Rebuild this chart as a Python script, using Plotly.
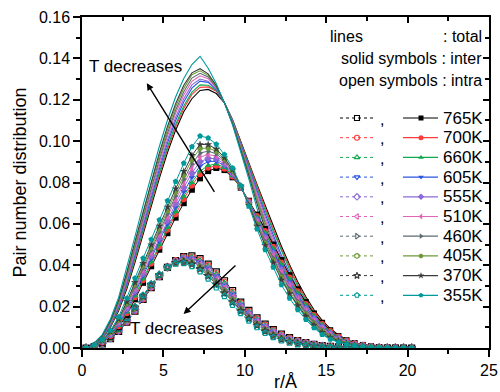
import plotly.graph_objects as go

# ---------------- data ----------------
R = [0.25, 0.75, 1.25, 1.75, 2.25, 2.75, 3.25, 3.75, 4.25, 4.75, 5.25, 5.75, 6.25, 6.75,
     7.25, 7.75, 8.25, 8.75, 9.25, 9.75, 10.25, 10.75, 11.25, 11.75, 12.25, 12.75, 13.25,
     13.75, 14.25, 14.75, 15.25, 15.75, 16.25, 16.75, 17.25, 17.75, 18.25, 18.75, 19.25,
     19.75, 20.25]

TEMPS = ["765K", "700K", "660K", "605K", "555K", "510K", "460K", "405K", "370K", "355K"]

# total (lines)
total_765 = [0,.0014,.0045,.0100,.0180,.0285,.0413,.0550,.0687,.0820,.0945,.1053,.1142,.1205,.1245,.1250,.1230,.1185,.1103,.0997,.0894,.0791,.0690,.0589,.0492,.0402,.0320,.0248,.0185,.0134,.0094,.0063,.0041,.0026,.0016,.0010,.0005,.0003,.0002,.0001,0]
total_700 = [0,.0015,.0047,.0104,.0187,.0295,.0425,.0564,.0702,.0835,.0961,.1069,.1158,.1226,.1260,.1262,.1241,.1185,.1100,.0993,.0886,.0779,.0676,.0574,.0477,.0389,.0308,.0238,.0177,.0127,.0090,.0060,.0039,.0025,.0015,.0009,.0005,.0003,.0002,.0001,0]
total_660 = [0,.0015,.0049,.0107,.0192,.0302,.0434,.0573,.0712,.0847,.0972,.1080,.1170,.1237,.1272,.1270,.1245,.1185,.1099,.0990,.0881,.0771,.0666,.0564,.0467,.0379,.0300,.0231,.0171,.0123,.0086,.0057,.0038,.0024,.0015,.0009,.0005,.0003,.0002,.0001,0]
total_605 = [0,.0017,.0050,.0112,.0199,.0314,.0449,.0591,.0730,.0865,.0991,.1100,.1189,.1256,.1290,.1284,.1249,.1185,.1096,.0984,.0871,.0758,.0649,.0546,.0448,.0363,.0285,.0219,.0162,.0116,.0079,.0053,.0034,.0022,.0014,.0009,.0004,.0003,.0002,.0001,0]
total_555 = [0,.0018,.0053,.0116,.0206,.0324,.0462,.0604,.0745,.0880,.1006,.1115,.1205,.1272,.1300,.1290,.1253,.1185,.1094,.0980,.0865,.0746,.0635,.0532,.0433,.0348,.0274,.0209,.0154,.0109,.0075,.0050,.0032,.0021,.0013,.0008,.0004,.0003,.0002,.0001,0]
total_510 = [0,.0019,.0056,.0120,.0213,.0335,.0475,.0620,.0761,.0897,.1024,.1134,.1223,.1289,.1316,.1302,.1258,.1186,.1091,.0975,.0856,.0733,.0619,.0516,.0417,.0334,.0262,.0199,.0145,.0102,.0070,.0047,.0030,.0020,.0012,.0008,.0004,.0003,.0002,.0001,0]
total_460 = [0,.0019,.0057,.0124,.0219,.0345,.0487,.0633,.0776,.0912,.1039,.1149,.1239,.1305,.1328,.1310,.1261,.1185,.1088,.0971,.0848,.0721,.0605,.0501,.0401,.0320,.0250,.0188,.0136,.0095,.0065,.0043,.0028,.0017,.0010,.0006,.0004,.0002,.0001,.0001,0]
total_405 = [0,.0020,.0060,.0128,.0226,.0355,.0499,.0647,.0791,.0928,.1055,.1166,.1255,.1321,.1340,.1318,.1266,.1186,.1086,.0966,.0840,.0710,.0591,.0486,.0386,.0307,.0238,.0179,.0128,.0088,.0060,.0040,.0026,.0016,.0009,.0006,.0004,.0002,.0001,.0001,0]
total_370 = [0,.0022,.0061,.0132,.0232,.0365,.0513,.0661,.0805,.0943,.1071,.1181,.1270,.1330,.1350,.1325,.1269,.1185,.1083,.0962,.0832,.0698,.0576,.0471,.0371,.0292,.0226,.0168,.0120,.0082,.0055,.0037,.0023,.0015,.0009,.0005,.0003,.0002,.0001,.0001,0]
total_355 = [0,.0023,.0065,.0140,.0245,.0385,.0537,.0689,.0835,.0974,.1102,.1213,.1303,.1370,.1410,.1352,.1277,.1185,.1078,.0953,.0817,.0675,.0548,.0442,.0341,.0265,.0202,.0148,.0104,.0069,.0045,.0030,.0019,.0012,.0007,.0004,.0003,.0002,.0001,.0001,0]

# inter (solid symbols)
inter_765 = [0,.0008,.0025,.0055,.0100,.0160,.0235,.0315,.0395,.0475,.0555,.0630,.0700,.0765,.0820,.0855,.0870,.0860,.0825,.0775,.0712,.0645,.0575,.0500,.0425,.0352,.0284,.0222,.0167,.0122,.0086,.0058,.0038,.0024,.0015,.0009,.0005,.0003,.0002,.0001,0]
inter_700 = [0,.0009,.0026,.0058,.0105,.0168,.0245,.0327,.0408,.0489,.0571,.0647,.0719,.0786,.0840,.0871,.0881,.0867,.0829,.0776,.0709,.0638,.0565,.0489,.0413,.0341,.0274,.0213,.0160,.0116,.0082,.0055,.0036,.0023,.0014,.0008,.0005,.0003,.0002,.0001,0]
inter_660 = [0,.0009,.0028,.0060,.0109,.0174,.0252,.0335,.0417,.0500,.0582,.0660,.0733,.0800,.0855,.0882,.0890,.0873,.0833,.0777,.0707,.0633,.0558,.0481,.0405,.0333,.0267,.0208,.0155,.0112,.0079,.0053,.0035,.0022,.0014,.0008,.0005,.0003,.0002,.0001,0]
inter_605 = [0,.0010,.0029,.0064,.0115,.0183,.0265,.0350,.0433,.0517,.0601,.0681,.0756,.0825,.0880,.0901,.0903,.0882,.0838,.0778,.0704,.0625,.0546,.0468,.0390,.0320,.0255,.0197,.0147,.0106,.0073,.0049,.0032,.0020,.0013,.0008,.0004,.0003,.0002,.0001,0]
inter_555 = [0,.0011,.0031,.0067,.0120,.0191,.0275,.0361,.0446,.0531,.0616,.0698,.0775,.0846,.0900,.0917,.0915,.0889,.0843,.0779,.0702,.0618,.0536,.0457,.0378,.0308,.0245,.0189,.0140,.0100,.0069,.0046,.0030,.0019,.0012,.0007,.0004,.0003,.0002,.0001,0]
inter_510 = [0,.0012,.0033,.0070,.0125,.0200,.0286,.0375,.0460,.0547,.0634,.0718,.0797,.0869,.0923,.0935,.0928,.0898,.0848,.0780,.0699,.0610,.0525,.0445,.0365,.0296,.0235,.0180,.0132,.0094,.0064,.0043,.0028,.0018,.0011,.0007,.0004,.0003,.0002,.0001,0]
inter_460 = [0,.0012,.0034,.0073,.0130,.0208,.0296,.0386,.0473,.0561,.0649,.0735,.0816,.0890,.0943,.0951,.0939,.0905,.0852,.0781,.0696,.0603,.0515,.0434,.0353,.0285,.0225,.0171,.0125,.0088,.0060,.0040,.0026,.0016,.0010,.0006,.0004,.0002,.0001,.0001,0]
inter_405 = [0,.0013,.0036,.0076,.0135,.0216,.0306,.0398,.0486,.0576,.0665,.0753,.0835,.0911,.0964,.0967,.0951,.0913,.0857,.0782,.0693,.0596,.0505,.0423,.0341,.0274,.0215,.0163,.0118,.0082,.0055,.0037,.0024,.0015,.0009,.0006,.0004,.0002,.0001,.0001,0]
inter_370 = [0,.0014,.0037,.0079,.0140,.0224,.0317,.0410,.0499,.0590,.0681,.0770,.0854,.0931,.0984,.0983,.0962,.0920,.0861,.0783,.0690,.0589,.0495,.0412,.0329,.0262,.0205,.0154,.0111,.0076,.0051,.0034,.0022,.0014,.0009,.0005,.0003,.0002,.0001,.0001,0]
inter_355 = [0,.0015,.0040,.0085,.0150,.0240,.0337,.0434,.0525,.0619,.0712,.0805,.0893,.0973,.1025,.1015,.0985,.0935,.0870,.0785,.0685,.0575,.0475,.0390,.0305,.0240,.0185,.0137,.0097,.0065,.0042,.0028,.0018,.0011,.0007,.0004,.0003,.0002,.0001,.0001,0]

# intra (open symbols)
intra_765 = [0,.0006,.0020,.0045,.0080,.0125,.0178,.0235,.0292,.0345,.0390,.0423,.0442,.0445,.0432,.0405,.0368,.0325,.0278,.0222,.0182,.0146,.0115,.0089,.0067,.0050,.0036,.0026,.0018,.0012,.0008,.0005,.0003,.0002,.0001,.0001,0,0,0,0,0]
intra_700 = [0,.0006,.0021,.0046,.0082,.0127,.0180,.0237,.0294,.0346,.0390,.0422,.0439,.0440,.0426,.0398,.0360,.0318,.0271,.0217,.0177,.0141,.0111,.0085,.0064,.0048,.0034,.0025,.0017,.0011,.0008,.0005,.0003,.0002,.0001,.0001,0,0,0,0,0]
intra_660 = [0,.0006,.0021,.0047,.0083,.0128,.0182,.0238,.0295,.0347,.0390,.0420,.0437,.0437,.0421,.0393,.0355,.0312,.0266,.0213,.0174,.0138,.0108,.0083,.0062,.0046,.0033,.0023,.0016,.0011,.0007,.0004,.0003,.0002,.0001,.0001,0,0,0,0,0]
intra_605 = [0,.0007,.0021,.0048,.0084,.0131,.0184,.0241,.0297,.0348,.0390,.0419,.0433,.0431,.0414,.0385,.0346,.0303,.0258,.0206,.0167,.0133,.0103,.0078,.0058,.0043,.0030,.0022,.0015,.0010,.0006,.0004,.0002,.0002,.0001,.0001,0,0,0,0,0]
intra_555 = [0,.0007,.0022,.0049,.0086,.0133,.0187,.0243,.0299,.0349,.0390,.0417,.0430,.0426,.0408,.0378,.0338,.0296,.0251,.0201,.0163,.0128,.0099,.0075,.0055,.0040,.0029,.0020,.0014,.0009,.0006,.0004,.0002,.0002,.0001,.0001,0,0,0,0,0]
intra_510 = [0,.0007,.0023,.0050,.0088,.0135,.0189,.0245,.0301,.0350,.0390,.0416,.0426,.0420,.0401,.0370,.0330,.0288,.0243,.0195,.0157,.0123,.0094,.0071,.0052,.0038,.0027,.0019,.0013,.0008,.0006,.0004,.0002,.0002,.0001,.0001,0,0,0,0,0]
intra_460 = [0,.0007,.0023,.0051,.0089,.0137,.0191,.0247,.0303,.0351,.0390,.0414,.0423,.0415,.0395,.0363,.0322,.0280,.0236,.0190,.0152,.0118,.0090,.0067,.0048,.0035,.0025,.0017,.0011,.0007,.0005,.0003,.0002,.0001,0,0,0,0,0,0,0]
intra_405 = [0,.0007,.0024,.0052,.0091,.0139,.0193,.0249,.0305,.0352,.0390,.0413,.0420,.0410,.0389,.0356,.0315,.0273,.0229,.0184,.0147,.0114,.0086,.0063,.0045,.0033,.0023,.0016,.0010,.0006,.0005,.0003,.0002,.0001,0,0,0,0,0,0,0]
intra_370 = [0,.0008,.0024,.0053,.0092,.0141,.0196,.0251,.0306,.0353,.0390,.0411,.0416,.0405,.0382,.0349,.0307,.0265,.0222,.0179,.0142,.0109,.0081,.0059,.0042,.0030,.0021,.0014,.0009,.0006,.0004,.0003,.0001,.0001,0,0,0,0,0,0,0]
intra_355 = [0,.0008,.0025,.0055,.0095,.0145,.0200,.0255,.0310,.0355,.0390,.0408,.0410,.0395,.0370,.0335,.0292,.0250,.0208,.0168,.0132,.0100,.0073,.0052,.0036,.0025,.0017,.0011,.0007,.0004,.0003,.0002,.0001,.0001,0,0,0,0,0,0,0]

TOTALS = [total_765, total_700, total_660, total_605, total_555, total_510, total_460, total_405, total_370, total_355]
INTERS = [inter_765, inter_700, inter_660, inter_605, inter_555, inter_510, inter_460, inter_405, inter_370, inter_355]
INTRAS = [intra_765, intra_700, intra_660, intra_605, intra_555, intra_510, intra_460, intra_405, intra_370, intra_355]

# ---------------- styles ----------------
COLORS = ["#000000", "#ff3b3b", "#12a84e", "#2a55e0", "#8a6ad8", "#e064b8",
          "#5c6a72", "#6f9a3a", "#3c3c3c", "#009a9a"]
SYMBOLS = ["square", "circle", "triangle-up", "triangle-down", "diamond",
           "triangle-left", "triangle-right", "hexagon", "star", "pentagon"]
FONT = "Liberation Sans, Arial, sans-serif"

fig = go.Figure()

for tot, col, name in zip(TOTALS, COLORS, TEMPS):
    fig.add_trace(go.Scatter(x=R, y=tot, mode="lines", name=name + " total",
                             line=dict(color=col, width=1.1), showlegend=False))
for intra, col, sym, name in zip(INTRAS, COLORS, SYMBOLS, TEMPS):
    fig.add_trace(go.Scatter(x=R, y=intra, mode="lines+markers", name=name + " intra",
                             line=dict(color=col, width=1, dash="dot"),
                             marker=dict(symbol=sym + "-open", size=6, color=col,
                                         line=dict(color=col, width=1.2)),
                             showlegend=False))
for inter, col, sym, name in zip(INTERS, COLORS, SYMBOLS, TEMPS):
    fig.add_trace(go.Scatter(x=R, y=inter, mode="lines+markers", name=name + " inter",
                             line=dict(color=col, width=1),
                             marker=dict(symbol=sym, size=6, color=col, line=dict(width=0)),
                             showlegend=False))

# ---------------- custom legend (overlay axis in pixel-like units) ----------------
LEG_Y0, LEG_DY = 118, 19.7
annotations = []
for k, (name, col, sym) in enumerate(zip(TEMPS, COLORS, SYMBOLS)):
    yy = LEG_Y0 + LEG_DY * k
    fig.add_trace(go.Scatter(x=[340, 375], y=[yy, yy], mode="lines", xaxis="x3", yaxis="y3",
                             line=dict(color=col, width=1, dash="dot"), showlegend=False,
                             hoverinfo="skip"))
    fig.add_trace(go.Scatter(x=[357], y=[yy], mode="markers", xaxis="x3", yaxis="y3",
                             marker=dict(symbol=sym + "-open", size=5, color=col,
                                         line=dict(color=col, width=1.1)),
                             showlegend=False, hoverinfo="skip"))
    fig.add_trace(go.Scatter(x=[403, 438], y=[yy, yy], mode="lines", xaxis="x3", yaxis="y3",
                             line=dict(color=col, width=1.2), showlegend=False,
                             hoverinfo="skip"))
    fig.add_trace(go.Scatter(x=[421], y=[yy], mode="markers", xaxis="x3", yaxis="y3",
                             marker=dict(symbol=sym, size=5, color=col, line=dict(width=0)),
                             showlegend=False, hoverinfo="skip"))
    annotations.append(dict(x=382, y=yy + 1, xref="x3", yref="y3", text=",", showarrow=False,
                            font=dict(family=FONT, size=16, color="black")))
    annotations.append(dict(x=441, y=yy, xref="x3", yref="y3", text=name, showarrow=False,
                            xanchor="left", font=dict(family=FONT, size=17, color="black")))

annotations += [
    dict(x=328, y=36, xref="x3", yref="y3", text="lines", showarrow=False, xanchor="left",
         font=dict(family=FONT, size=16, color="black")),
    dict(x=484, y=36, xref="x3", yref="y3", text=": total", showarrow=False, xanchor="right",
         font=dict(family=FONT, size=16, color="black")),
    dict(x=484, y=58, xref="x3", yref="y3", text="solid symbols : inter", showarrow=False,
         xanchor="right", font=dict(family=FONT, size=16, color="black")),
    dict(x=484, y=80, xref="x3", yref="y3", text="open symbols : intra", showarrow=False,
         xanchor="right", font=dict(family=FONT, size=16, color="black")),
    # arrows
    dict(x=3.98, y=0.128, ax=8.19, ay=0.0748, xref="x", yref="y", axref="x", ayref="y",
         showarrow=True, arrowhead=2, arrowsize=1, arrowwidth=1.4, arrowcolor="black", text=""),
    dict(x=6.24, y=0.0164, ax=9.52, ay=0.0406, xref="x", yref="y", axref="x", ayref="y",
         showarrow=True, arrowhead=2, arrowsize=1, arrowwidth=1.4, arrowcolor="black", text=""),
    dict(x=3.26, y=0.1363, xref="x", yref="y", text="T decreases", showarrow=False,
         font=dict(family=FONT, size=17, color="black")),
    dict(x=5.82, y=0.0092, xref="x", yref="y", text="T decreases", showarrow=False,
         font=dict(family=FONT, size=17, color="black")),
]

axis_common = dict(showgrid=False, zeroline=False, showline=True, linecolor="black",
                   linewidth=1.5, tickcolor="black", tickwidth=1.5, automargin=False)

fig.update_layout(
    width=500, height=392,
    margin=dict(l=82, r=11, t=17, b=44, autoexpand=False),
    paper_bgcolor="white", plot_bgcolor="white",
    font=dict(family=FONT, size=16, color="black"),
    showlegend=False,
    xaxis=dict(range=[0, 25], dtick=5, tick0=0, ticks="outside", ticklen=7,
               minor=dict(dtick=2.5, ticks="outside", ticklen=4, tickcolor="black", tickwidth=1.5),
               title=dict(text="r/Å", font=dict(size=18), standoff=10),
               tickfont=dict(size=16), **axis_common),
    yaxis=dict(range=[0, 0.16], dtick=0.02, tick0=0, tickformat=".2f", ticks="outside",
               ticklen=7,
               minor=dict(dtick=0.01, ticks="outside", ticklen=4, tickcolor="black", tickwidth=1.5),
               title=dict(text="Pair number distribution", font=dict(size=18), standoff=8),
               tickfont=dict(size=16), **axis_common),
    xaxis2=dict(overlaying="x", side="top", anchor="y", range=[0, 25], dtick=5, tick0=0,
                ticks="inside", ticklen=6, showticklabels=False,
                minor=dict(dtick=2.5, ticks="inside", ticklen=4, tickcolor="black", tickwidth=1.5),
                **axis_common),
    yaxis2=dict(overlaying="y", side="right", anchor="x", range=[0, 0.16], dtick=0.02, tick0=0,
                ticks="inside", ticklen=6, showticklabels=False,
                minor=dict(dtick=0.01, ticks="inside", ticklen=4, tickcolor="black", tickwidth=1.5),
                **axis_common),
    xaxis3=dict(overlaying="x", anchor="y3", range=[82, 489], visible=False),
    yaxis3=dict(overlaying="y", anchor="x3", range=[348, 17], visible=False),
    annotations=annotations,
)

# dummy traces to activate the mirror axes
fig.add_trace(go.Scatter(x=[None], y=[None], xaxis="x2", yaxis="y", showlegend=False))
fig.add_trace(go.Scatter(x=[None], y=[None], xaxis="x", yaxis="y2", showlegend=False))

fig.write_html("out.html")
